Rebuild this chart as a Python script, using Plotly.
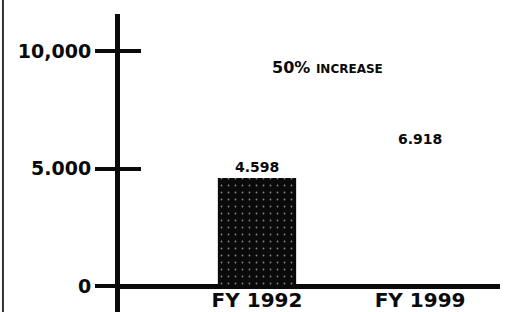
import plotly.graph_objects as go

categories = ["FY 1992", "FY 1999"]
values = [4598, 6918]
value_labels = ["4.598", "6.918"]
tick_vals = [0, 5000, 10000]
tick_text = ["0", "5.000", "10,000"]
note_text = "50% <span style='font-size:12px'>INCREASE</span>"

FONT = "DejaVu Sans"
BLACK = "#0a0a0a"

fig = go.Figure()
fig.add_trace(go.Bar(
    x=categories, y=values, width=0.48,
    marker=dict(
        color=[BLACK, "rgba(0,0,0,0)"],
        line=dict(width=0),
        pattern=dict(shape=[".", ""], fgcolor="#8a8a8a", bgcolor=BLACK, size=7, solidity=0.05),
    ),
    hoverinfo="skip", showlegend=False,
))
# invisible companion trace so the overlaid axis (crossing tick marks) is drawn
fig.add_trace(go.Scatter(x=categories, y=values, yaxis="y2", mode="none",
                         hoverinfo="skip", showlegend=False))

# value labels
fig.add_annotation(x=categories[0], y=values[0], text=value_labels[0], showarrow=False,
                   yanchor="bottom", yshift=1, font=dict(family=FONT, size=14, color=BLACK, weight="bold"))
fig.add_annotation(x=categories[1], y=values[1], text=value_labels[1], showarrow=False,
                   yanchor="top", yshift=-6, font=dict(family=FONT, size=14, color=BLACK, weight="bold"))
fig.add_annotation(xref="paper", yref="paper", x=0.547, y=0.86, text=note_text, showarrow=False,
                   font=dict(family=FONT, size=16, color=BLACK, weight="bold"))

yr = [-1106, 11574]
fig.update_layout(
    width=505, height=312,
    margin=dict(l=120, r=5, t=14, b=0, autoexpand=False),
    paper_bgcolor="white", plot_bgcolor="white",
    xaxis=dict(
        type="category", range=[-0.84, 1.49], showgrid=False, showline=False, zeroline=False,
        ticks="", anchor="free", position=0.087, automargin=False,
        tickfont=dict(family=FONT, size=20, color=BLACK, weight="bold"),
    ),
    yaxis=dict(
        range=yr, tickvals=tick_vals, ticktext=tick_text, showgrid=False, automargin=False,
        showline=True, linecolor=BLACK, linewidth=5,
        zeroline=True, zerolinecolor=BLACK, zerolinewidth=5,
        ticks="outside", ticklen=20, tickwidth=4, tickcolor=BLACK,
        tickfont=dict(family=FONT, size=19, color=BLACK, weight="bold"),
        ticklabelstandoff=0,
    ),
    yaxis2=dict(
        range=yr, overlaying="y", anchor="x", side="left", tickvals=tick_vals, automargin=False,
        showticklabels=False, showgrid=False, showline=False, zeroline=False,
        ticks="inside", ticklen=21, tickwidth=4, tickcolor=BLACK,
    ),
    shapes=[dict(type="line", xref="paper", yref="paper", x0=-0.308, x1=-0.308, y0=-0.1, y1=1.1,
                 line=dict(color="#333", width=2))],
)

fig.write_html("out.html", config={"displayModeBar": False},
               post_script="document.body.style.margin='0';document.body.style.overflow='hidden';")
